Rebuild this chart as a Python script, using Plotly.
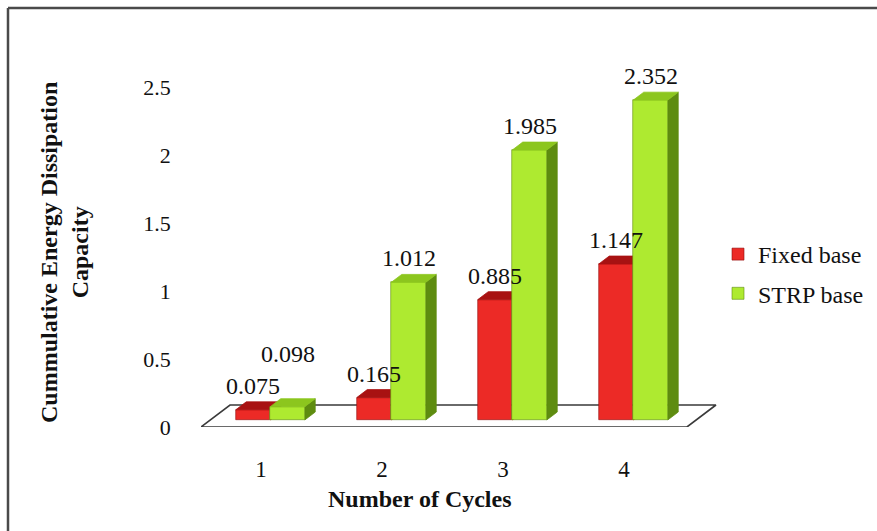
import plotly.graph_objects as go

# ---- data ----
cycles = [1, 2, 3, 4]
cycle_labels = ["1", "2", "3", "4"]
fixed_base = [0.075, 0.165, 0.885, 1.147]
strp_base = [0.098, 1.012, 1.985, 2.352]
y_ticks = [0, 0.5, 1, 1.5, 2, 2.5]
y_tick_labels = ["0", "0.5", "1", "1.5", "2", "2.5"]

# ---- page geometry ----
W, H = 877, 531
ML, MR, MT, MB = 201, 157, 87, 104
PX_PER_CAT = 121.0
PX_PER_UNIT = 136.0
X_LEFT = 0.504
X_RIGHT = X_LEFT + (W - ML - MR) / PX_PER_CAT
Y_TOP = (H - MT - MB) / PX_PER_UNIT

# pseudo-3D depth (fraction of floor depth -> data offsets)
DX = 29 / PX_PER_CAT
DY = 22 / PX_PER_UNIT
D_FRONT, D_BACK = 0.32, 0.68
BAR_W = 0.285
FLOOR_PAD_L, FLOOR_PAD_R = 0.496, 0.52

FONT = "Liberation Serif"
series = [
    dict(name="Fixed base", values=fixed_base, off=-BAR_W / 2,
         front="#EC2A26", top="#A81212", side="#8E0E0E"),
    dict(name="STRP base", values=strp_base, off=BAR_W / 2,
         front="#AEEA30", top="#8CC61E", side="#5E8C10"),
]


def px_to_paper_x(px):
    return (px - ML) / (W - ML - MR)


def px_to_paper_y(py):
    return (H - MB - py) / (H - MT - MB)


fig = go.Figure()

# floor of the 3-D plot
fx0 = cycles[0] - FLOOR_PAD_L
fx1 = cycles[-1] + FLOOR_PAD_R
fig.add_trace(go.Scatter(
    x=[fx0, fx1, fx1 + DX, fx0 + DX, fx0],
    y=[0, 0, DY, DY, 0],
    mode="lines", fill="toself", fillcolor="white",
    line=dict(color="#3a3a3a", width=1.6),
    hoverinfo="skip", showlegend=False, zorder=0,
))

b0 = D_FRONT * DY
s = (D_BACK - D_FRONT) * DX
t = (D_BACK - D_FRONT) * DY

for i, ser in enumerate(series):
    z = 1 + 3 * i
    xs_side, ys_side, xs_top, ys_top = [], [], [], []
    centers = []
    for k, v in zip(cycles, ser["values"]):
        c = k + ser["off"] + D_FRONT * DX
        xa, xb = c - BAR_W / 2, c + BAR_W / 2
        centers.append(c)
        xs_side += [xb, xb, xb + s, xb + s, xb, None]
        ys_side += [b0, b0 + v, b0 + v + t, b0 + t, b0, None]
        xs_top += [xa, xb, xb + s, xa + s, xa, None]
        ys_top += [b0 + v, b0 + v, b0 + v + t, b0 + v + t, b0 + v, None]
    # right-hand side faces
    fig.add_trace(go.Scatter(
        x=xs_side, y=ys_side, mode="lines", fill="toself",
        fillcolor=ser["side"], line=dict(color=ser["side"], width=0.8),
        hoverinfo="skip", showlegend=False, zorder=z,
    ))
    # front faces
    fig.add_trace(go.Bar(
        x=centers, y=ser["values"], base=[b0] * len(cycles), width=BAR_W,
        name=ser["name"], marker=dict(color=ser["front"],
                                      line=dict(color=ser["side"], width=0.6)),
        legendgroup=ser["name"], zorder=z + 1,
    ))
    # top faces
    fig.add_trace(go.Scatter(
        x=xs_top, y=ys_top, mode="lines", fill="toself",
        fillcolor=ser["top"], line=dict(color=ser["top"], width=0.8),
        hoverinfo="skip", showlegend=False, zorder=z + 2,
    ))

# value labels above each bar
label_nudge = {("STRP base", 1): 29}
annotations = []
for ser in series:
    for k, v in zip(cycles, ser["values"]):
        c = k + ser["off"] + D_FRONT * DX
        annotations.append(dict(
            x=c, y=b0 + v, xref="x", yref="y", text=f"{v:.3f}",
            showarrow=False, yanchor="middle",
            yshift=24 + label_nudge.get((ser["name"], k), 0),
            font=dict(family=FONT, size=24, color="#111111"),
        ))

# axis titles
annotations.append(dict(
    x=px_to_paper_x(64), y=px_to_paper_y(253), xref="paper", yref="paper",
    text="Cummulative Energy Dissipation<br>Capacity", textangle=-90,
    showarrow=False, xanchor="center", yanchor="middle",
    font=dict(family=FONT, size=24, color="#111111", weight="bold"),
))
annotations.append(dict(
    x=px_to_paper_x(420), y=px_to_paper_y(499), xref="paper", yref="paper",
    text="Number of Cycles", showarrow=False,
    xanchor="center", yanchor="middle",
    font=dict(family=FONT, size=24, color="#111111", weight="bold"),
))

# outer frame of the chart area
frame = dict(color="#4a4a4a", width=2.5)
shapes = [
    dict(type="line", xref="paper", yref="paper",
         x0=px_to_paper_x(8), y0=px_to_paper_y(8),
         x1=px_to_paper_x(W + 5), y1=px_to_paper_y(8), line=frame),
    dict(type="line", xref="paper", yref="paper",
         x0=px_to_paper_x(8), y0=px_to_paper_y(8),
         x1=px_to_paper_x(8), y1=px_to_paper_y(H + 5), line=frame),
]

fig.update_layout(
    width=W, height=H,
    margin=dict(l=ML, r=MR, t=MT, b=MB, autoexpand=False),
    paper_bgcolor="white", plot_bgcolor="white",
    barmode="overlay", bargap=0,
    font=dict(family=FONT, size=22, color="#111111"),
    xaxis=dict(range=[X_LEFT, X_RIGHT], tickmode="array", tickvals=cycles,
               ticktext=cycle_labels, showgrid=False, zeroline=False,
               showline=False, ticks="", ticklabelstandoff=26,
               tickfont=dict(family=FONT, size=23, color="#111111"),
               fixedrange=True),
    yaxis=dict(range=[0, Y_TOP], tickmode="array", tickvals=y_ticks,
               ticktext=y_tick_labels, showgrid=False, zeroline=False,
               showline=True, linecolor="#333333", linewidth=1.5,
               ticks="", ticklabelstandoff=24,
               tickfont=dict(family=FONT, size=22, color="#111111"),
               fixedrange=True),
    legend=dict(x=px_to_paper_x(718), y=px_to_paper_y(232), xanchor="left",
                yanchor="top", font=dict(family=FONT, size=24, color="#111111"),
                tracegroupgap=5, bgcolor="rgba(0,0,0,0)"),
    annotations=annotations,
    shapes=shapes,
    showlegend=True,
)

fig.write_html("out.html")
